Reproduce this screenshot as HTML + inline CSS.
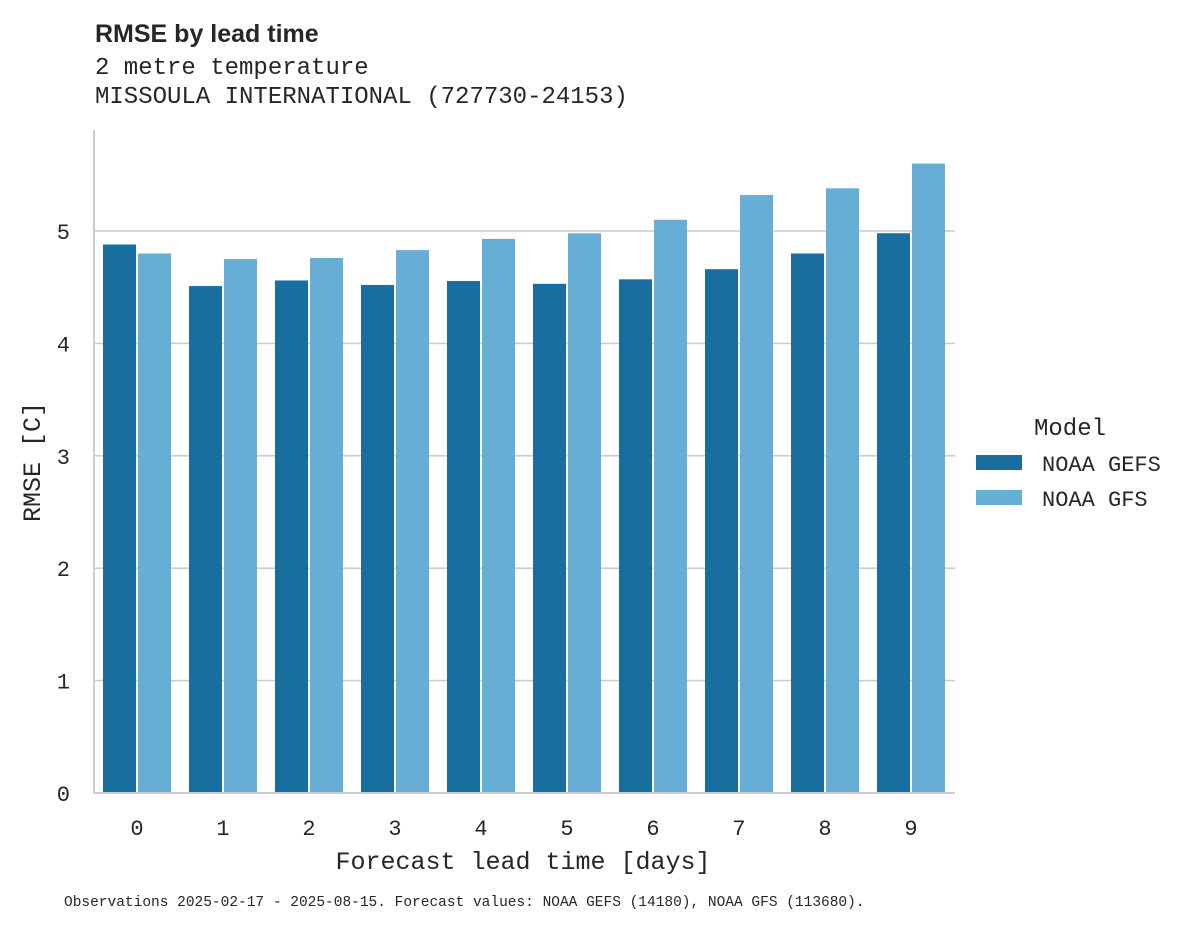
<!DOCTYPE html>
<html><head><meta charset="utf-8"><style>
body{margin:0;background:#fff;}
svg text{fill:#262626;}
.mono{font-family:"Liberation Mono","DejaVu Sans Mono",monospace;}
</style></head><body>
<svg width="1195" height="928" xmlns="http://www.w3.org/2000/svg">
<text x="95" y="42" font-family="Liberation Sans, DejaVu Sans, sans-serif" font-weight="bold" font-size="25">RMSE by lead time</text>
<text x="95" y="74" class="mono" font-size="24">2 metre temperature</text>
<text x="95" y="103" class="mono" font-size="24">MISSOULA INTERNATIONAL (727730-24153)</text>
<g id="grid"></g>
<g id="bars"></g>
<g id="axes"></g>
<text x="523" y="869" text-anchor="middle" class="mono" font-size="25">Forecast lead time [days]</text>
<text transform="translate(40,462) rotate(-90)" text-anchor="middle" class="mono" font-size="25">RMSE [C]</text>
<g>
<text x="1034" y="435" class="mono" font-size="24">Model</text>
<rect x="976" y="455" width="46" height="15" fill="#186e9e"/>
<text x="1042" y="471" class="mono" font-size="22">NOAA GEFS</text>
<rect x="976" y="490" width="46" height="15" fill="#67aed7"/>
<text x="1042" y="506" class="mono" font-size="22">NOAA GFS</text>
</g>
<text x="64" y="906" class="mono" font-size="14.5">Observations 2025-02-17 - 2025-08-15. Forecast values: NOAA GEFS (14180), NOAA GFS (113680).</text>
</svg>
<script>
const categories=["0","1","2","3","4","5","6","7","8","9"];
const gefsValues=[4.88,4.51,4.56,4.52,4.555,4.53,4.57,4.66,4.80,4.98];
const gfsValues=[4.80,4.75,4.76,4.83,4.93,4.98,5.10,5.32,5.38,5.60];
const yTicks=[0,1,2,3,4,5];
const NS="http://www.w3.org/2000/svg";
const x0=94,x1=955,yb=793,pxPerUnit=112.4,step=86,firstC=137,bw=33;
function y(v){return yb-v*pxPerUnit;}
function xc(i){return firstC+i*step;}
function mk(tag,attrs,parent){const e=document.createElementNS(NS,tag);for(const k in attrs)e.setAttribute(k,attrs[k]);parent.appendChild(e);return e;}
const grid=document.getElementById('grid'),bars=document.getElementById('bars'),axes=document.getElementById('axes');
yTicks.forEach(t=>{
 if(t>0){const g=mk('line',{x1:x0,x2:x1,y1:y(t),y2:y(t),stroke:'#cccccc','stroke-width':1.6},grid);
 
 }
 const l=mk('text',{x:70,y:y(t)+8,'text-anchor':'end','class':'mono','font-size':22},axes);
 l.textContent=t;
 
 
});
categories.forEach((c,i)=>{
 const a=mk('rect',{x:xc(i)-bw-1,y:y(gefsValues[i]),width:bw,height:yb-y(gefsValues[i]),fill:'#186e9e'},bars);
 
 
 const b=mk('rect',{x:xc(i)+1,y:y(gfsValues[i]),width:bw,height:yb-y(gfsValues[i]),fill:'#67aed7'},bars);
 
 
 const t=mk('text',{x:xc(i),y:835,'text-anchor':'middle','class':'mono','font-size':22},axes);
 t.textContent=c;
 
 
});
const ls=mk('line',{x1:x0,x2:x0,y1:130,y2:yb+1,stroke:'#cccccc','stroke-width':2},axes);


const bs=mk('line',{x1:x0,x2:x1,y1:yb,y2:yb,stroke:'#cccccc','stroke-width':2},axes);


</script>
</body></html>
